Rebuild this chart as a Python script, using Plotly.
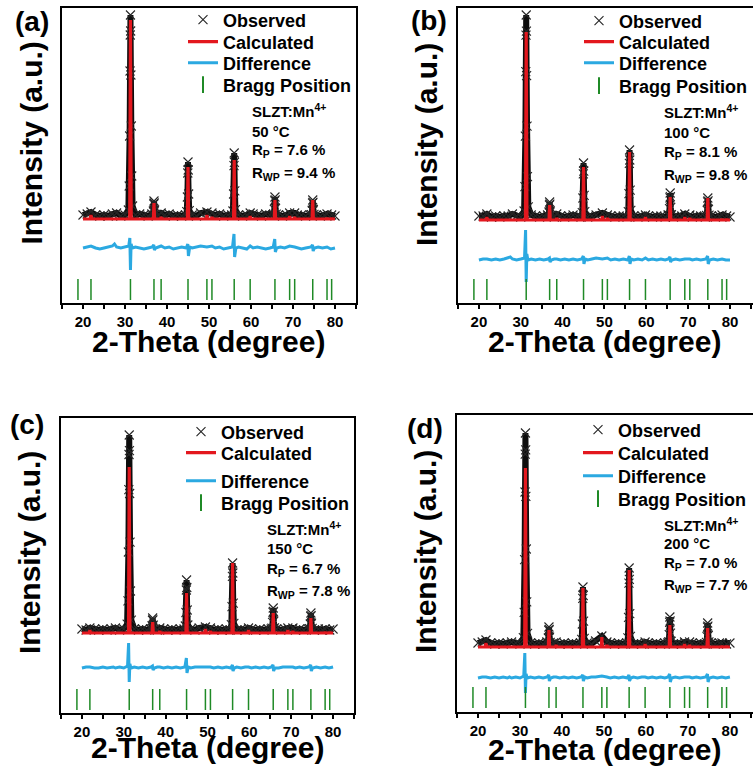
import plotly.graph_objects as go

# ---------------------------------------------------------------- data ----
panel_tags = ["(a)", "(b)", "(c)", "(d)"]
sample_name = "SLZT:Mn<sup>4+</sup>"
temperatures = ["50 °C", "100 °C", "150 °C", "200 °C"]
r_p = ["7.6", "8.1", "6.7", "7.0"]
r_wp = ["9.4", "9.8", "7.8", "7.7"]

# reflection positions of the refined phase (2-theta, degree)
bragg_positions = [18.8, 21.9, 31.3, 36.9, 38.6, 45.0, 49.5, 50.7, 56.0,
                   59.8, 65.7, 69.2, 70.4, 74.7, 78.1, 79.2]

# observed pattern (2-theta, counts)
obs_x = [20.0, 21.0, 21.9, 23.0, 24.0, 25.0, 26.0, 27.0, 28.0, 29.0, 30.0,
         30.8, 31.0, 31.1, 31.2, 31.25, 31.3, 31.35, 31.4, 31.5, 31.6, 31.8,
         32.5, 33.5, 34.5, 35.5, 36.4,
         36.6, 36.75, 36.85, 36.9, 36.95, 37.05, 37.2,
         38.0, 38.6, 39.5, 40.5, 41.5, 42.5, 43.5, 44.4,
         44.7, 44.85, 44.95, 45.0, 45.05, 45.15, 45.3,
         46.0, 47.0, 48.0, 49.5, 50.7, 51.5, 52.5, 53.5, 54.5, 55.4,
         55.7, 55.85, 55.95, 56.0, 56.05, 56.15, 56.3,
         57.0, 58.0, 59.0, 59.8, 60.5, 61.5, 62.5, 63.5, 64.5, 65.2,
         65.4, 65.55, 65.65, 65.7, 65.75, 65.85, 66.0,
         66.5, 67.5, 68.5, 69.2, 70.4, 71.0, 72.0, 73.0, 74.1,
         74.4, 74.55, 74.65, 74.7, 74.75, 74.85, 75.0,
         75.5, 76.5, 77.5, 78.1, 79.2, 80.0]

obs_50C = [700, 750, 850, 700, 650, 700, 650, 750, 800, 650, 700,
           950, 2150, 4650, 7900, 9700, 10700, 9900, 7700, 5150, 2650, 1150,
           700, 750, 700, 650, 750,
           710, 900, 1250, 1400, 1300, 950, 730,
           700, 800, 700, 750, 650, 700, 650, 700,
           870, 1600, 2800, 3350, 2950, 1750, 920,
           700, 650, 800, 850, 800, 700, 750, 650, 700, 700,
           900, 1750, 3170, 3800, 3330, 1910, 965,
           700, 650, 700, 800, 750, 700, 650, 750, 700, 700,
           730, 980, 1410, 1600, 1460, 1030, 745,
           700, 650, 700, 800, 800, 700, 700, 650, 700,
           715, 930, 1290, 1450, 1330, 970, 730,
           700, 650, 700, 750, 700, 650]

obs_100C = [700, 700, 800, 650, 700, 650, 700, 700, 800, 700, 650,
            950, 2165, 4690, 7920, 9740, 10750, 9940, 7720, 5195, 2670, 1155,
            750, 700, 650, 700, 750,
            710, 900, 1250, 1400, 1290, 950, 725,
            650, 800, 700, 650, 700, 750, 700, 650,
            870, 1600, 2810, 3350, 2945, 1730, 920,
            650, 700, 750, 850, 750, 700, 650, 700, 700, 650,
            920, 1820, 3330, 4000, 3500, 1990, 985,
            700, 650, 700, 750, 700, 650, 700, 700, 650, 750,
            745, 1070, 1610, 1850, 1670, 1130, 770,
            650, 700, 700, 800, 750, 650, 700, 700, 650,
            725, 980, 1410, 1600, 1460, 1030, 745,
            700, 650, 700, 750, 700, 650]

obs_150C = [700, 650, 750, 700, 650, 700, 650, 700, 750, 650, 700,
            940, 2110, 4550, 7670, 9425, 10400, 9620, 7475, 5040, 2600, 1140,
            700, 650, 700, 650, 700,
            700, 860, 1130, 1250, 1160, 890, 710,
            650, 750, 700, 650, 700, 650, 700, 700,
            850, 1525, 2650, 3150, 2775, 1650, 900,
            700, 650, 750, 800, 750, 650, 700, 650, 700, 650,
            920, 1820, 3330, 4000, 3500, 1990, 985,
            650, 700, 650, 750, 700, 650, 700, 650, 700, 700,
            740, 1035, 1530, 1750, 1585, 1090, 760,
            700, 650, 700, 750, 750, 650, 700, 650, 700,
            720, 950, 1330, 1500, 1370, 990, 735,
            650, 700, 650, 700, 650, 700]

obs_200C = [700, 750, 850, 700, 650, 700, 650, 700, 750, 700, 650,
            965, 2230, 4870, 8250, 10145, 11200, 10355, 8035, 5400, 2760, 1180,
            700, 650, 700, 650, 750,
            720, 950, 1330, 1500, 1375, 990, 735,
            700, 750, 650, 700, 650, 700, 650, 700,
            880, 1650, 2930, 3500, 3075, 1790, 935,
            700, 650, 800, 1050, 750, 700, 650, 700, 650, 700,
            955, 1980, 3690, 4450, 3880, 2170, 1030,
            650, 700, 650, 750, 700, 650, 700, 650, 700, 700,
            760, 1120, 1730, 2000, 1800, 1190, 785,
            650, 700, 650, 750, 750, 700, 650, 700, 650,
            735, 1020, 1490, 1700, 1545, 1070, 755,
            700, 650, 700, 700, 650, 700]

# calculated (refined) profile
calc_x = [20.0, 21.75, 21.9, 22.05, 31.12, 31.3, 31.48, 36.75, 36.9, 37.05,
          38.48, 38.6, 38.72, 44.85, 45.0, 45.15, 49.38, 49.5, 49.62, 50.58,
          50.7, 50.82, 55.85, 56.0, 56.15, 59.68, 59.8, 59.92, 65.55, 65.7,
          65.85, 69.08, 69.2, 69.32, 70.28, 70.4, 70.52, 74.55, 74.7, 74.85,
          77.98, 78.1, 78.22, 79.08, 79.2, 79.32, 80.0]

calc_50C = [500, 500, 700, 500, 500, 10450, 500, 500, 1300, 500,
            500, 600, 500, 500, 3100, 500, 500, 700, 500, 500,
            600, 500, 500, 3450, 500, 500, 650, 500, 500, 1450,
            500, 500, 650, 500, 500, 600, 500, 500, 1450, 500,
            500, 550, 500, 500, 550, 500, 500]

calc_100C = [500, 500, 650, 500, 500, 9900, 500, 500, 1250, 500,
             500, 600, 500, 500, 3150, 500, 500, 700, 500, 500,
             600, 500, 500, 3900, 500, 500, 650, 500, 500, 1650,
             500, 500, 650, 500, 500, 600, 500, 500, 1600, 500,
             500, 550, 500, 500, 550, 500, 500]

calc_150C = [500, 500, 650, 500, 500, 8800, 500, 500, 1050, 500,
             500, 600, 500, 500, 2500, 500, 500, 700, 500, 500,
             600, 500, 500, 4000, 500, 500, 650, 500, 500, 1500,
             500, 500, 650, 500, 500, 600, 500, 500, 1250, 500,
             500, 550, 500, 500, 550, 500, 500]

calc_200C = [500, 500, 700, 500, 500, 9450, 500, 500, 1350, 500,
             500, 600, 500, 500, 3450, 500, 500, 1000, 500, 500,
             600, 500, 500, 4350, 500, 500, 650, 500, 500, 1600,
             500, 500, 650, 500, 500, 600, 500, 500, 1450, 500,
             500, 550, 500, 500, 550, 500, 500]

# difference curve (observed - calculated)
diff_x = [20.0, 21.0, 21.9, 23.0, 24.0, 25.0, 26.0, 27.0, 27.5, 28.0, 29.0, 30.0,
          30.9, 31.15, 31.3, 31.45, 31.7,
          32.5, 33.5, 34.5, 35.5, 36.5,
          36.85, 37.0, 37.3,
          38.0, 38.6, 39.5, 40.5, 41.5, 42.5, 43.5, 44.6,
          44.95, 45.1, 45.4,
          46.0, 47.0, 48.0, 49.5, 50.7, 51.5, 52.5, 53.5, 54.5, 55.6,
          55.95, 56.1, 56.4,
          57.0, 58.0, 59.0, 59.8, 60.5, 61.5, 62.5, 63.5, 64.5, 65.3,
          65.65, 65.8, 66.1,
          67.0, 68.0, 69.2, 70.4, 71.0, 72.0, 73.0, 74.3,
          74.65, 74.8, 75.1,
          76.0, 77.0, 78.1, 79.0, 80.0]

diff_50C = [0, 50, 100, 0, -50, 0, 50, 100, 200, 50, 0, 50,
            100, 500, -1100, 200, 0,
            50, 0, -50, 0, 50,
            150, -100, 0,
            50, 100, 0, 50, -50, 0, 50, 0,
            200, -400, 50,
            0, 50, 100, 50, 100, 0, 50, -50, 0, 50,
            700, -450, 0,
            50, 0, -50, 100, 0, 50, 0, -50, 0, 50,
            450, -200, 0,
            50, 0, 100, 50, 0, -50, 0, 50,
            150, -150, 0,
            50, 0, 50, -50, 0]

diff_100C = [0, 50, 50, 0, 50, 0, 50, 100, 150, 50, 0, 50,
             100, 1500, -1100, 300, 0,
             50, 0, 50, 0, 50,
             100, -100, 0,
             50, 50, 0, 50, 0, 50, 0, 50,
             200, -200, 50,
             0, 50, 100, 50, 100, 0, 50, 0, 50, 0,
             200, -200, 50,
             0, 50, 0, 100, 0, 50, 0, 50, 0, 50,
             150, -100, 0,
             50, 0, 50, 50, 0, 50, 0, 50,
             200, -200, 0,
             50, 0, 50, 0, 0]

diff_150C = [0, 50, 50, 0, 0, 50, 0, 50, 50, 0, 50, 0,
             100, 1250, -700, 200, 0,
             50, 0, 50, 0, 50,
             100, -100, 0,
             50, 50, 0, 50, 0, 50, 0, 50,
             500, -250, 50,
             0, 50, 50, 50, 50, 0, 50, 0, 50, 0,
             150, -150, 0,
             50, 0, 50, 50, 0, 50, 0, 50, 0, 50,
             150, -150, 0,
             0, 50, 50, 50, 0, 50, 0, 50,
             150, -150, 0,
             50, 0, 50, 0, 50]

diff_200C = [0, 50, 50, 0, 50, 0, 50, 0, 50, 0, 50, 0,
             100, 1250, -750, 200, 0,
             50, 0, 50, 0, 50,
             150, -150, 0,
             50, 50, 0, 50, 0, 50, 0, 50,
             150, -150, 50,
             0, 50, 50, 100, 50, 0, 50, 0, 50, 0,
             150, -150, 0,
             50, 0, 50, 50, 0, 50, 0, 50, 0, 50,
             200, -200, 0,
             50, 0, 50, 50, 0, 50, 0, 50,
             200, -200, 0,
             50, 0, 50, 0, 50]

observed = [obs_50C, obs_100C, obs_150C, obs_200C]
calculated = [calc_50C, calc_100C, calc_150C, calc_200C]
difference = [diff_50C, diff_100C, diff_150C, diff_200C]

# -------------------------------------------------------------- layout ----
FIG_W, FIG_H = 753, 773
FONT = "Arial, 'Liberation Sans', Helvetica, sans-serif"
RED = "#E3171E"
BLUE = "#2BA9E1"
GREEN = "#1F8A26"
OBS_BAND = "#0d0d0d"
OBS_MARK = "#262626"

# pixel placement of every panel and of its texts
geometry = [
    dict(box=(62, 8, 356, 303), xr=[15, 85], yr=[-3700, 11050], mirror_y=True,
         diff_off=-950, bragg_y=-3025, leg_left=223, leg_rows=[20, 42, 63, 85],
         note_left=250, note_rows=[110, 131, 151, 173],
         ytitle=(31, 143.5), tag=(32, 21), xtitle=(209, 341)),
    dict(box=(458, 8, 753, 303), xr=[15, 85.5], yr=[-3650, 11100], mirror_y=False,
         diff_off=-1500, bragg_y=-2975, leg_left=619, leg_rows=[21, 42, 63, 86],
         note_left=662, note_rows=[112, 132, 153, 175],
         ytitle=(426.5, 144.5), tag=(428.5, 20.5), xtitle=(604, 341)),
    dict(box=(61, 418, 354, 713), xr=[15, 85], yr=[-3500, 11250], mirror_y=True,
         diff_off=-1250, bragg_y=-2825, leg_left=221, leg_rows=[432, 453, 481, 503],
         note_left=265, note_rows=[528, 548, 569, 591],
         ytitle=(29, 553), tag=(26.5, 424), xtitle=(208, 747)),
    dict(box=(457, 415, 753, 712), xr=[15, 85.5], yr=[-2750, 12100], mirror_y=False,
         diff_off=-1050, bragg_y=-2025, leg_left=618, leg_rows=[430, 453, 476, 499],
         note_left=662, note_rows=[524, 543, 563, 585],
         ytitle=(425, 552), tag=(424.5, 428), xtitle=(604.5, 749)),
]


def fx(px):
    return px / FIG_W


def fy(py):
    return 1 - py / FIG_H


def bold(size):
    return dict(family=FONT, size=size, color="black", weight="bold")


fig = go.Figure()
layout = dict(
    width=FIG_W, height=FIG_H,
    margin=dict(l=0, r=0, t=0, b=0),
    paper_bgcolor="white", plot_bgcolor="white",
    showlegend=True,
)
annotations = []
legend_no = 0

for i, g in enumerate(geometry):
    sfx = "" if i == 0 else str(i + 1)
    xa, ya = "x" + sfx, "y" + sfx
    x0, y0, x1, y1 = g["box"]

    layout["xaxis" + sfx] = dict(
        domain=[fx(x0), fx(x1)], range=g["xr"], anchor=ya,
        showline=True, linecolor="black", linewidth=2, mirror=True,
        ticks="outside", ticklen=4, tickwidth=2, tickcolor="black",
        tick0=0, dtick=10, tickfont=bold(15),
        minor=dict(ticks="outside", dtick=5, tick0=0, ticklen=4,
                   tickwidth=1.5, tickcolor="black"),
        showgrid=False, zeroline=False,
    )
    layout["yaxis" + sfx] = dict(
        domain=[fy(y1), fy(y0)], range=g["yr"], anchor=xa,
        showline=True, linecolor="black", linewidth=2, mirror=g["mirror_y"],
        ticks="", showticklabels=False, showgrid=False, zeroline=False,
    )

    obs, calc, diff = observed[i], calculated[i], difference[i]

    # dense observed points merge into a solid band along the background
    fig.add_trace(go.Scatter(
        x=obs_x, y=obs, xaxis=xa, yaxis=ya, mode="lines",
        line=dict(color=OBS_BAND, width=6), showlegend=False, hoverinfo="skip"))

    names = ["Observed", "Calculated", "Difference", "Bragg Position"]
    legend_ids = []
    for k in range(4):
        legend_no += 1
        lid = "legend" if legend_no == 1 else "legend%d" % legend_no
        legend_ids.append(lid)
        layout[lid] = dict(
            x=fx(g["leg_left"] - 40), y=fy(g["leg_rows"][k]),
            xanchor="left", yanchor="middle",
            bgcolor="rgba(0,0,0,0)", borderwidth=0, font=bold(18),
            itemsizing="constant" if k == 3 else "trace",
        )

    fig.add_trace(go.Scatter(
        x=obs_x, y=obs, xaxis=xa, yaxis=ya, mode="markers", name=names[0],
        legend=legend_ids[0],
        marker=dict(symbol="x-thin-open", size=9, color=OBS_MARK,
                    line=dict(color=OBS_MARK, width=1.1))))
    fig.add_trace(go.Scatter(
        x=calc_x, y=calc, xaxis=xa, yaxis=ya, mode="lines", name=names[1],
        legend=legend_ids[1], line=dict(color=RED, width=3.2)))
    fig.add_trace(go.Scatter(
        x=diff_x, y=[v + g["diff_off"] for v in diff], xaxis=xa, yaxis=ya,
        mode="lines", name=names[2], legend=legend_ids[2],
        line=dict(color=BLUE, width=3)))
    fig.add_trace(go.Scatter(
        x=bragg_positions, y=[g["bragg_y"]] * len(bragg_positions),
        xaxis=xa, yaxis=ya, mode="markers", name=names[3], legend=legend_ids[3],
        marker=dict(symbol="line-ns", size=15, color=GREEN,
                    line=dict(color=GREEN, width=1.5))))

    # panel texts
    annotations.append(dict(
        text=panel_tags[i], x=fx(g["tag"][0]), y=fy(g["tag"][1]),
        xref="paper", yref="paper", showarrow=False,
        xanchor="center", yanchor="middle", font=bold(28)))
    annotations.append(dict(
        text="Intensity (a.u.)", textangle=-90,
        x=fx(g["ytitle"][0]), y=fy(g["ytitle"][1]),
        xref="paper", yref="paper", showarrow=False,
        xanchor="center", yanchor="middle", font=bold(30)))
    annotations.append(dict(
        text="2-Theta (degree)", x=fx(g["xtitle"][0]), y=fy(g["xtitle"][1]),
        xref="paper", yref="paper", showarrow=False,
        xanchor="center", yanchor="middle", font=bold(30)))
    notes = [sample_name, temperatures[i],
             "R<sub>P</sub> = %s %%" % r_p[i],
             "R<sub>WP</sub> = %s %%" % r_wp[i]]
    for txt, row in zip(notes, g["note_rows"]):
        annotations.append(dict(
            text=txt, x=fx(g["note_left"]), y=fy(row),
            xref="paper", yref="paper", showarrow=False,
            xanchor="left", yanchor="middle", font=bold(15)))

layout["annotations"] = annotations
fig.update_layout(**layout)
fig.write_html("out.html")
